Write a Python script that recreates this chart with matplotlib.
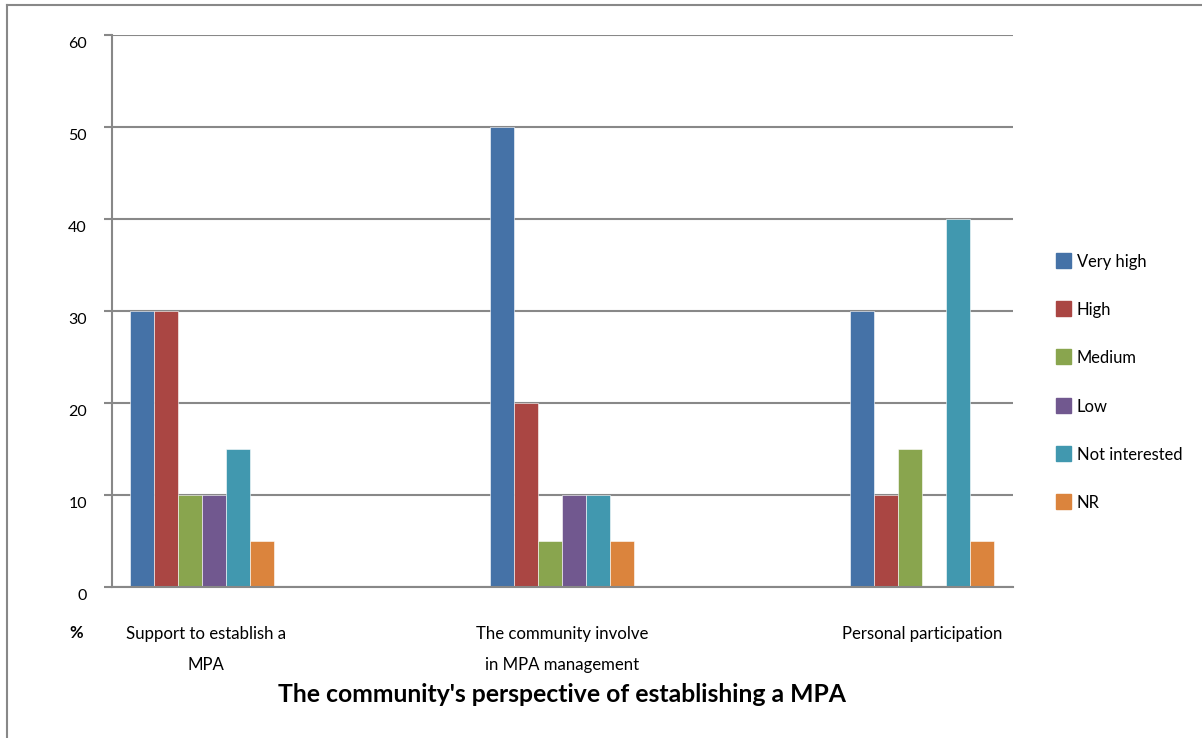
import numpy as np
import matplotlib
matplotlib.use("Agg")
import matplotlib.pyplot as plt
import matplotlib.transforms as mtransforms
from matplotlib.lines import Line2D
from matplotlib.patches import Rectangle

plt.rcParams['font.family'] = ['Lato', 'DejaVu Sans']

# Données
categories = ["Support to establish a\nMPA", "The community involve\nin MPA management", "Personal participation"]
series = ["Very high", "High", "Medium", "Low", "Not interested", "NR"]
very_high = [30, 50, 30]
high = [30, 20, 10]
medium = [10, 5, 15]
low = [10, 10, 0]
not_interested = [15, 10, 40]
nr = [5, 5, 5]
yticks = [0, 10, 20, 30, 40, 50, 60]

values = [very_high, high, medium, low, not_interested, nr]
colors = ["#4572A7", "#AA4643", "#89A54E", "#71588F", "#4198AF", "#DB843D"]
grid_col = "#888888"

fig = plt.figure(figsize=(12.02, 7.38), dpi=100)
ax = fig.add_axes([0.0932, 0.2046, 0.7496, 0.748])

x = np.arange(len(categories))
w = 0.0667
for i, (vals, col) in enumerate(zip(values, colors)):
    ax.bar(x + (i - 2.5) * w, vals, w, color=col, edgecolor="white", linewidth=0.4, zorder=3)

ax.set_xlim(-0.25, 2.253)
ax.set_ylim(0, 60.01)
ax.set_yticks(yticks)
ax.yaxis.grid(True, color=grid_col, linewidth=1.5, zorder=0)
ax.tick_params(axis="y", direction="out", length=6, width=1.5, color=grid_col, pad=12, labelsize=11.5)
# les étiquettes de l'axe Y sont un peu sous les lignes
shift = mtransforms.ScaledTranslation(0, -7 / 100, fig.dpi_scale_trans)
for lab in ax.get_yticklabels():
    lab.set_transform(lab.get_transform() + shift)
ax.set_xticks(x)
ax.set_xticklabels(categories, fontsize=12.1, linespacing=2.15)
ax.tick_params(axis="x", length=0, pad=28)
nudge = mtransforms.ScaledTranslation(4 / 100, 0, fig.dpi_scale_trans)
ax.get_xticklabels()[0].set_transform(ax.get_xticklabels()[0].get_transform() + nudge)
for s in ["top", "right"]:
    ax.spines[s].set_visible(False)
for s in ["left", "bottom"]:
    ax.spines[s].set_color(grid_col)
    ax.spines[s].set_linewidth(1.5)
ax.spines["bottom"].set_zorder(4)

fig.text(76 / 1202, 1 - 633 / 738, "%", fontsize=12, fontweight="bold", ha="center", va="center")
fig.text(562 / 1202, 1 - 695 / 738, "The community's perspective of establishing a MPA",
         fontsize=17.8, fontweight="bold", ha="center", va="center")

# Légende
for k, (name, col) in enumerate(zip(series, colors)):
    ytop = 253 + k * 48.2
    fig.add_artist(Rectangle((1056 / 1202, 1 - (ytop + 15) / 738), 15 / 1202, 15 / 738,
                             transform=fig.transFigure, color=col))
    fig.text(1077 / 1202, 1 - (ytop + 9) / 738, name, fontsize=11.9, ha="left", va="center")

# cadre extérieur
fig.add_artist(Line2D([7 / 1202, 7 / 1202], [0, 1 - 5 / 738], transform=fig.transFigure, color=grid_col, lw=1.5))
fig.add_artist(Line2D([7 / 1202, 1], [1 - 5 / 738, 1 - 5 / 738], transform=fig.transFigure, color=grid_col, lw=1.5))

fig.savefig("out.png", dpi=100)
